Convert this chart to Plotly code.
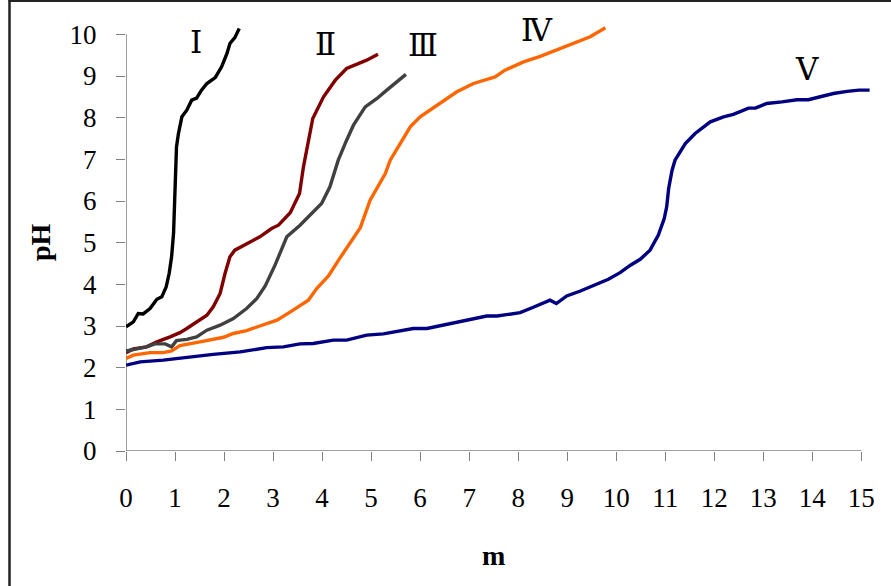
import plotly.graph_objects as go

# Titration curves: pH against added volume m
m_I = [0.0, 0.15, 0.25, 0.35, 0.49, 0.63, 0.73, 0.82, 0.88, 0.93, 0.97, 1.0, 1.03, 1.07, 1.14, 1.24,
       1.34, 1.44, 1.54, 1.65, 1.82, 1.95, 2.06, 2.12, 2.22, 2.31]
ph_I = [2.98, 3.10, 3.30, 3.29, 3.42, 3.64, 3.70, 3.94, 4.26, 4.66, 5.22, 6.42, 7.30, 7.62, 8.02, 8.18,
        8.42, 8.47, 8.66, 8.82, 8.96, 9.22, 9.54, 9.78, 9.92, 10.14]

m_II = [0.0, 0.15, 0.42, 0.63, 0.90, 1.10, 1.24, 1.44, 1.65, 1.78, 1.92, 2.02, 2.12, 2.22, 2.46, 2.73,
        2.97, 3.11, 3.35, 3.54, 3.62, 3.72, 3.81, 4.03, 4.27, 4.50, 4.71, 4.91, 5.14]
ph_II = [2.36, 2.45, 2.50, 2.62, 2.74, 2.84, 2.94, 3.10, 3.26, 3.46, 3.78, 4.26, 4.66, 4.82, 4.98, 5.14,
         5.34, 5.42, 5.72, 6.18, 6.82, 7.46, 7.98, 8.50, 8.90, 9.18, 9.28, 9.38, 9.52]

m_III = [0.0, 0.22, 0.42, 0.59, 0.80, 0.93, 1.03, 1.24, 1.44, 1.65, 1.92, 2.19, 2.46, 2.67, 2.84, 3.04,
         3.28, 3.55, 3.76, 3.99, 4.16, 4.33, 4.50, 4.64, 4.88, 5.12, 5.32, 5.52, 5.71]
ph_III = [2.40, 2.46, 2.50, 2.57, 2.57, 2.50, 2.65, 2.68, 2.74, 2.90, 3.02, 3.18, 3.42, 3.66, 3.96, 4.46,
          5.14, 5.42, 5.66, 5.94, 6.34, 6.98, 7.46, 7.82, 8.26, 8.46, 8.66, 8.86, 9.04]

m_IV = [0.0, 0.15, 0.49, 0.76, 0.93, 1.10, 1.51, 1.99, 2.19, 2.46, 2.73, 3.08, 3.41, 3.72, 3.89, 4.13,
        4.37, 4.57, 4.78, 4.98, 5.29, 5.39, 5.66, 5.80, 6.00, 6.24, 6.54, 6.75, 7.09, 7.53, 7.73, 8.11,
        8.45, 8.79, 9.13, 9.47, 9.78]
ph_IV = [2.22, 2.30, 2.36, 2.36, 2.40, 2.53, 2.62, 2.73, 2.82, 2.89, 3.00, 3.14, 3.38, 3.62, 3.90, 4.20,
         4.64, 4.98, 5.36, 6.02, 6.66, 6.98, 7.50, 7.78, 8.02, 8.22, 8.46, 8.62, 8.82, 8.98, 9.14, 9.34,
         9.47, 9.62, 9.78, 9.94, 10.16]

m_V = [0.0, 0.29, 0.76, 1.24, 1.78, 2.33, 2.87, 3.21, 3.55, 3.82, 4.23, 4.50, 4.91, 5.25, 5.86, 6.14,
       6.75, 7.36, 7.57, 8.04, 8.31, 8.65, 8.78, 8.99, 9.27, 9.54, 9.84, 10.08, 10.29, 10.49, 10.69,
       10.86, 10.98, 11.03, 11.07, 11.14, 11.20, 11.41, 11.61, 11.92, 12.19, 12.39, 12.70, 12.84,
       13.07, 13.38, 13.69, 13.92, 14.16, 14.43, 14.71, 14.95, 15.17]
ph_V = [2.06, 2.14, 2.18, 2.25, 2.32, 2.38, 2.48, 2.50, 2.57, 2.58, 2.66, 2.66, 2.78, 2.81, 2.94, 2.94,
        3.10, 3.24, 3.24, 3.32, 3.45, 3.62, 3.54, 3.72, 3.84, 3.98, 4.12, 4.28, 4.46, 4.60, 4.82,
        5.18, 5.58, 5.86, 6.30, 6.74, 6.98, 7.38, 7.62, 7.90, 8.02, 8.08, 8.23, 8.23,
        8.34, 8.38, 8.43, 8.43, 8.50, 8.58, 8.63, 8.66, 8.66]

series_names = ["Ⅰ", "Ⅱ", "Ⅲ", "Ⅳ", "Ⅴ"]
series_colors = ["#000000", "#800000", "#404040", "#FF6600", "#000080"]
series_data = [(m_I, ph_I), (m_II, ph_II), (m_III, ph_III), (m_IV, ph_IV), (m_V, ph_V)]

# Curve labels (position in data units)
label_x = [1.43, 4.06, 6.06, 8.39, 13.90]
label_y = [9.81, 9.78, 9.75, 10.10, 9.18]

x_ticks = list(range(0, 16))
y_ticks = list(range(0, 11))

X_MAX, Y_MAX = 15.3, 10.2
W, H = 891, 586
ML, MR, MT, MB = 126, 15, 26, 135
pw, ph_ = W - ML - MR, H - MT - MB

def px_to_paper_x(px):
    return (px - ML) / pw

def py_to_paper_y(py):
    return (H - MB - py) / ph_

fig = go.Figure()
for name, color, (xs, ys) in zip(series_names, series_colors, series_data):
    fig.add_trace(go.Scatter(x=xs, y=ys, mode="lines", name=name,
                             line=dict(color=color, width=3.4), showlegend=False))

for name, lx, ly in zip(series_names, label_x, label_y):
    fig.add_annotation(x=lx, y=ly, text=name, showarrow=False,
                       xanchor="center", yanchor="middle",
                       font=dict(family="DejaVu Serif", size=31, color="#000000"))

tick_font = dict(family="Liberation Serif", size=27, color="#000000")
axis_gray = "#808080"

fig.update_xaxes(range=[0, X_MAX], tickmode="array", tickvals=x_ticks,
                 ticktext=[str(v) for v in x_ticks], ticks="outside", ticklen=9,
                 tickwidth=1.3, tickcolor=axis_gray, showgrid=False, zeroline=False,
                 showline=False, tickfont=tick_font, ticklabelstandoff=14)
fig.update_yaxes(range=[0, Y_MAX], tickmode="array", tickvals=y_ticks,
                 ticktext=[str(v) for v in y_ticks], ticks="outside", ticklen=9,
                 tickwidth=1.3, tickcolor=axis_gray, showgrid=False, zeroline=False,
                 showline=False, tickfont=tick_font, ticklabelstandoff=14)

# Axis lines spanning only the labelled range
fig.add_shape(type="line", xref="x", yref="y", x0=0, x1=15, y0=0, y1=0,
              line=dict(color=axis_gray, width=1.5), layer="below")
fig.add_shape(type="line", xref="x", yref="y", x0=0, x1=0, y0=0, y1=10,
              line=dict(color=axis_gray, width=1.5), layer="below")

# Outer frame (left and top edges)
fig.add_shape(type="line", xref="paper", yref="paper",
              x0=px_to_paper_x(9.5), x1=px_to_paper_x(9.5),
              y0=py_to_paper_y(H + 5), y1=py_to_paper_y(0),
              line=dict(color="#222222", width=2.5))
fig.add_shape(type="line", xref="paper", yref="paper",
              x0=px_to_paper_x(8.5), x1=px_to_paper_x(W + 5),
              y0=py_to_paper_y(0.8), y1=py_to_paper_y(0.8),
              line=dict(color="#222222", width=2.5))

title_font = dict(family="Liberation Serif", size=28, color="#000000")
fig.add_annotation(xref="paper", yref="paper", x=px_to_paper_x(40), y=py_to_paper_y(242),
                   xanchor="center", yanchor="middle",
                   text="<b>pH</b>", textangle=-90, showarrow=False, font=title_font)
fig.add_annotation(xref="paper", yref="paper", x=px_to_paper_x(493), y=py_to_paper_y(555),
                   xanchor="center", yanchor="middle",
                   text="<b>m</b>", showarrow=False, font=title_font)

fig.update_layout(width=W, height=H, margin=dict(l=ML, r=MR, t=MT, b=MB),
                  paper_bgcolor="#FFFFFF", plot_bgcolor="#FFFFFF")

fig.write_html("out.html")
